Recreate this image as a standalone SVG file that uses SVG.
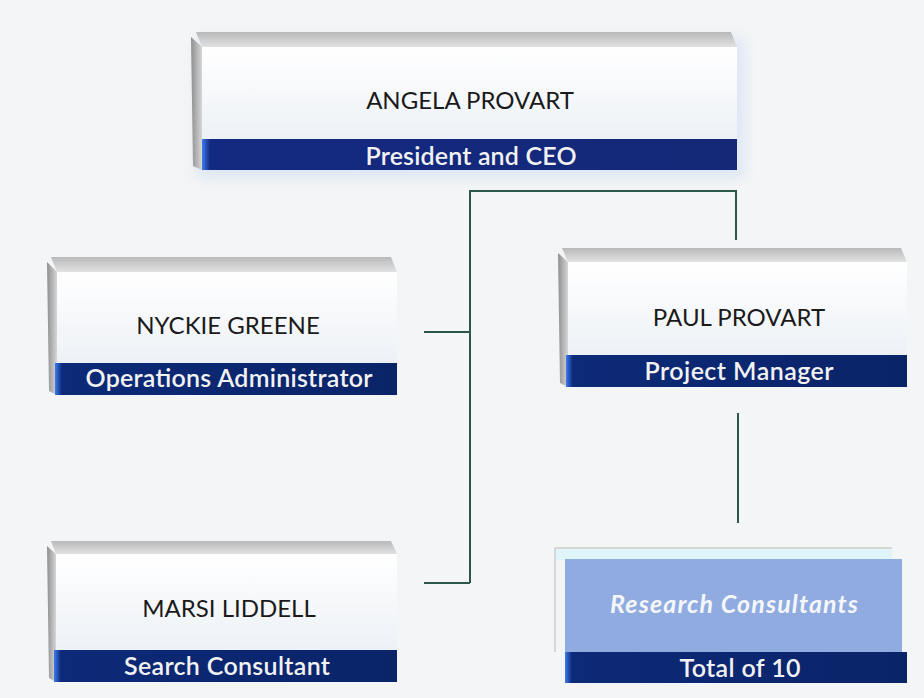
<svg xmlns="http://www.w3.org/2000/svg" width="924" height="698" viewBox="0 0 924 698">
<defs>
<linearGradient id="gTop" x1="0" y1="0" x2="0" y2="1"><stop offset="0" stop-color="#b9b9b9"/><stop offset="1" stop-color="#e2e2e2"/></linearGradient>
<linearGradient id="gLeft" x1="0" y1="0" x2="1" y2="0"><stop offset="0" stop-color="#8f8f8f"/><stop offset="1" stop-color="#d6d6d6"/></linearGradient>
<linearGradient id="gFront" x1="0" y1="0" x2="0" y2="1"><stop offset="0" stop-color="#ffffff"/><stop offset="1" stop-color="#edf1f6"/></linearGradient>
<linearGradient id="gBar" x1="0" y1="0" x2="1" y2="0"><stop offset="0" stop-color="#3d7cf0"/><stop offset="0.02" stop-color="#0d2a78"/><stop offset="1" stop-color="#0a2468"/></linearGradient>
<linearGradient id="gBarTop" x1="0" y1="0" x2="1" y2="0"><stop offset="0" stop-color="#3d7cf0"/><stop offset="0.015" stop-color="#142a82"/><stop offset="1" stop-color="#142877"/></linearGradient>
<filter id="glow" x="-10%" y="-20%" width="120%" height="140%"><feGaussianBlur stdDeviation="7"/></filter>
</defs>
<style>
.top{fill:url(#gTop)}
.left{fill:url(#gLeft)}
.front{fill:url(#gFront)}
.bar{fill:url(#gBar)}
.name{font-family:Lato,"Liberation Sans",sans-serif;font-size:24px;fill:#1a1a1a;text-anchor:middle}
.title{font-family:Lato,"Liberation Sans",sans-serif;font-size:25px;fill:#f2f2f2;text-anchor:middle;font-weight:600}
.conn{fill:none;stroke:#2b5648;stroke-width:2}
</style>
<rect width="924" height="698" fill="#f4f5f6"/>

<g id="connectors">
<path class="conn" d="M470,583 V191 H736 V240"/>
<path class="conn" d="M424,332 H470"/>
<path class="conn" d="M424,583 H470"/>
<path class="conn" d="M738,413 V523"/>
</g>

<g id="angela">
<rect x="196" y="38" width="548" height="140" fill="#d6e2f3" opacity="0.8" filter="url(#glow)"/>
<polygon class="top" points="196,32 731,32 737,47 202,47"/>
<polygon class="left" points="191,37 202,47 202,170 193,166"/>
<rect class="front" x="202" y="47" width="535" height="92"/>
<rect x="202" y="139" width="535" height="31" fill="url(#gBarTop)"/>
<text class="name" x="470" y="109">ANGELA PROVART</text>
<text class="title" x="471" y="165" textLength="211">President and CEO</text>
</g>

<g id="nyckie">
<polygon class="top" points="51,257 391,257 397,272 57,272"/>
<polygon class="left" points="47,262 57,272 57,395 49,391"/>
<rect class="front" x="57" y="272" width="340" height="91"/>
<rect class="bar" x="55" y="363" width="342" height="32"/>
<text class="name" x="228" y="334">NYCKIE GREENE</text>
<text class="title" x="229" y="387" textLength="287">Operations Administrator</text>
</g>

<g id="paul">
<polygon class="top" points="562,248 901,248 907,262 568,262"/>
<polygon class="left" points="558,253 568,262 568,387 560,383"/>
<rect class="front" x="568" y="262" width="339" height="93"/>
<rect class="bar" x="566" y="355" width="341" height="32"/>
<text class="name" x="739" y="326">PAUL PROVART</text>
<text class="title" x="739" y="380" textLength="189">Project Manager</text>
</g>

<g id="marsi">
<polygon class="top" points="51,541 391,541 397,554 56,554"/>
<polygon class="left" points="47,546 56,554 56,682 49,678"/>
<rect class="front" x="56" y="554" width="341" height="96"/>
<rect class="bar" x="54" y="650" width="343" height="32"/>
<text class="name" x="229" y="617">MARSI LIDDELL</text>
<text class="title" x="227" y="675" textLength="206">Search Consultant</text>
</g>

<g id="research">
<rect x="556" y="549" width="336" height="11" fill="#dff5f9"/>
<polyline points="892,548 555,548 555,652" fill="none" stroke="#b8b8b8" stroke-width="1"/>
<rect x="565" y="559" width="337" height="93" fill="#90abdf"/>
<rect class="bar" x="565" y="652" width="342" height="31"/>
<text x="734" y="613" textLength="248" style="font-family:Lato,'Liberation Sans',sans-serif;font-size:25px;font-style:italic;font-weight:700;fill:#f4f6fa;text-anchor:middle">Research Consultants</text>
<text class="title" x="740" y="677" textLength="121">Total of 10</text>
</g>
</svg>
